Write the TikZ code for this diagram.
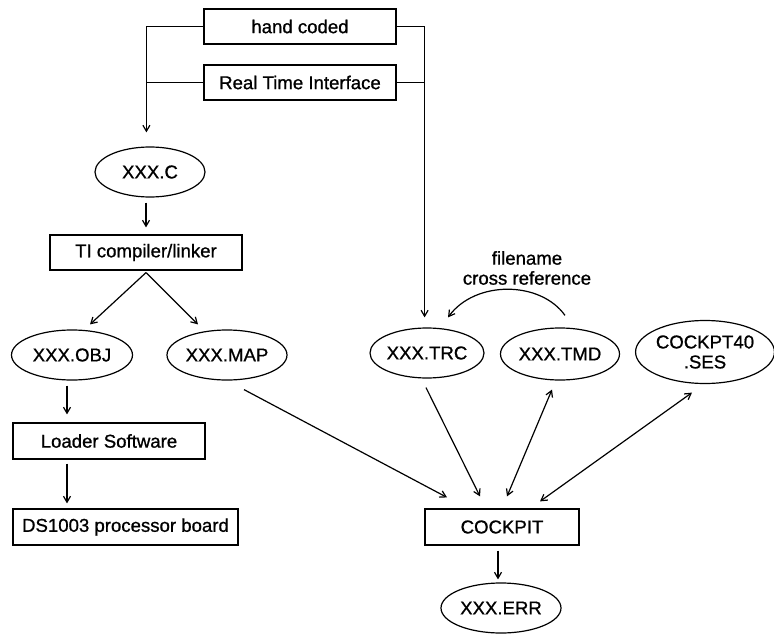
\documentclass[tikz,border=0pt]{standalone}
\usepackage{fontspec}
\setmainfont{Liberation Sans}[BoldFont=Liberation Sans,BoldFeatures={FakeBold=0.9}]
\usetikzlibrary{shapes.geometric,arrows.meta,calc}
\begin{document}
\begin{tikzpicture}[x=1pt,y=1pt,
  line width=1.2pt,
  every node/.style={font=\fontsize{18.6}{20}\selectfont\bfseries},
  stepbox/.style={draw,rectangle,minimum height=35pt,inner sep=0pt},
  filenode/.style={draw,ellipse,inner sep=0pt},
  arr/.style={-{Straight Barb[length=6pt,width=7pt]}},
  darr/.style={{Straight Barb[length=6pt,width=7pt]}-{Straight Barb[length=6pt,width=7pt]}}]
\useasboundingbox (0,0) rectangle (774,-634);

% sources
\node[stepbox,minimum width=192pt] (hc) at (300,-26.5) {hand coded};
\node[stepbox,minimum width=192pt] (rti) at (300,-82.5) {Real Time Interface};

% target build chain
\node[filenode,minimum width=110pt,minimum height=50pt] (xc) at (150,-172) {XXX.C};
\node[stepbox,minimum width=192pt] (ti) at (146,-252.5) {TI compiler/linker};
\node[filenode,minimum width=121pt,minimum height=50pt] (obj) at (72,-355) {XXX.OBJ};
\node[filenode,minimum width=120pt,minimum height=50pt] (map) at (227,-355) {XXX.MAP};
\node[stepbox,minimum width=192pt,minimum height=36pt] (ld) at (109,-441) {Loader Software};
\node[stepbox,minimum width=225pt,minimum height=36pt] (ds) at (125.5,-527) {DS1003 processor board};

% cockpit files
\node[filenode,minimum width=108pt,minimum height=50pt] (trc) at (427,-353) {XXX.TRC};
\node[filenode,minimum width=119pt,minimum height=52pt] (tmd) at (560,-354) {XXX.TMD};
\node[filenode,minimum width=136pt,minimum height=63pt,align=center] (ses) at (705,-352) {COCKPT40\\.SES};
\node[stepbox,minimum width=154pt,minimum height=36pt] (ck) at (502,-527) {COCKPIT};
\node[filenode,minimum width=120pt,minimum height=50pt] (err) at (501,-608) {XXX.ERR};
\node[align=center] (xref) at (527,-268) {filename\\cross reference};

% bus lines from the sources
\coordinate (lbus) at ($(hc.west)+(-57,0)$);
\coordinate (rbus) at ($(hc.east)+(28,0)$);
\draw[arr] (hc.west) -- (lbus) -- ($(lbus |- xc.north)+(0,14)$);
\draw (rti.west) -- (rti.west -| lbus);
\draw[arr] (hc.east) -- (rbus) -- ($(rbus |- trc.north)+(0,10)$);
\draw (rti.east) -- (rti.east -| rbus);

% build chain
\draw[arr] ($(xc.south)+(-4,-5)$) -- ($(ti.north)+(0,7)$);
\draw[arr] ($(ti.south)+(0,-2)$) -- ($(obj.north)+(18,5)$);
\draw[arr] ($(ti.south)+(0,-2)$) -- ($(map.north)+(-29,5)$);
\draw[arr] ($(obj.south)+(-5,-5)$) -- ($(obj.south |- ld.north)+(-5,8)$);
\draw[arr] ($(ld.south)+(-42,-4)$) -- ($(ld.south |- ds.north)+(-42,5)$);

% cockpit connections
\draw[arr] ($(map.south)+(17,-9)$) -- ($(ck.north)+(-55,11)$);
\draw[arr] ($(trc.south)+(-1,-9)$) -- ($(ck.north)+(-22,12)$);
\draw[darr] ($(ck.north)+(5,12)$) -- ($(tmd.south)+(-8,-9)$);
\draw[darr] ($(ck.north)+(38,7)$) -- ($(ses.south)+(-13,-8.5)$);
\draw[arr] ($(ck.south)+(-4,-5)$) -- ($(err.north)+(-3,3)$);

% filename cross reference
\draw[arr] ($(tmd.north)+(5,12)$) .. controls +(-25,35) and +(27,37) .. ($(trc.north)+(21,10)$);
\end{tikzpicture}
\end{document}
